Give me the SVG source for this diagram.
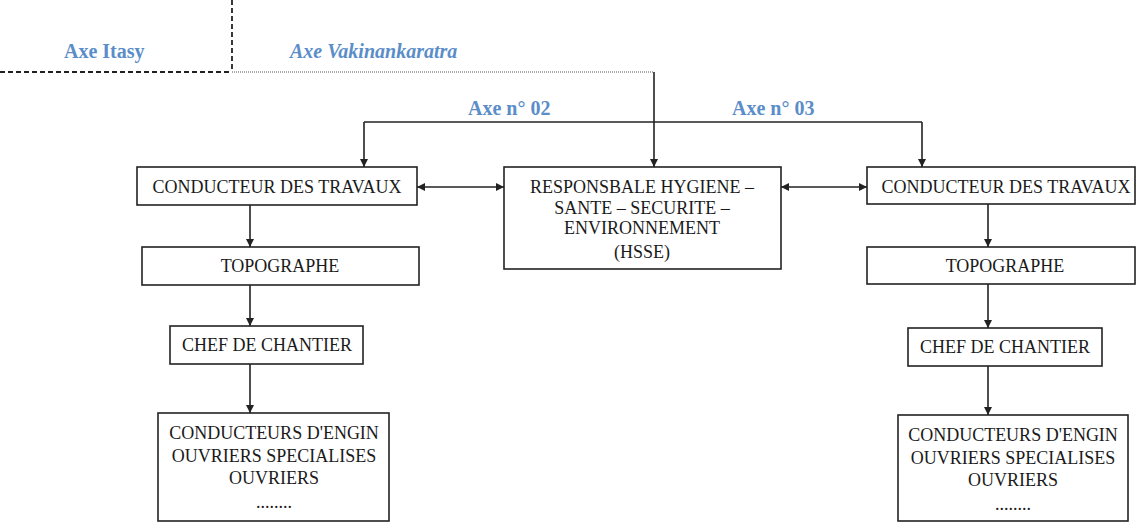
<svg xmlns="http://www.w3.org/2000/svg" width="1137" height="522" viewBox="0 0 1137 522">
<style>
.box{fill:#fff;stroke:#222;stroke-width:1.6}
.t{font-family:"Liberation Serif","Times New Roman",serif;font-size:18px;fill:#1a1a1a;text-anchor:middle}
.lbl{font-family:"Liberation Serif","Times New Roman",serif;font-size:20px;font-weight:bold;fill:#5b8dc8}
.ln{stroke:#222;stroke-width:1.6;fill:none}
</style>
<defs>
<marker id="ah" viewBox="0 0 10 10" refX="10" refY="5" markerWidth="8" markerHeight="8" markerUnits="userSpaceOnUse" orient="auto-start-reverse"><path d="M0,0L10,5L0,10z" fill="#222"/></marker>
</defs>
<g id="labels">
<text class="lbl" x="64" y="58">Axe Itasy</text>
<text class="lbl" x="290" y="58" font-style="italic">Axe Vakinankaratra</text>
<text class="lbl" x="468" y="115">Axe n° 02</text>
<text class="lbl" x="732" y="115">Axe n° 03</text>
</g>
<g id="connectors">
<path d="M232,0V72" stroke="#222" stroke-width="1.8" stroke-dasharray="5,3" fill="none"/>
<path d="M0,72H232" stroke="#222" stroke-width="1.8" stroke-dasharray="5,3" fill="none"/>
<path d="M232,72H654" stroke="#555" stroke-width="1.2" stroke-dasharray="1,1" fill="none"/>
<path class="ln" d="M654,72V167" marker-end="url(#ah)"/>
<path class="ln" d="M364,122H922"/>
<path class="ln" d="M364,122V167" marker-end="url(#ah)"/>
<path class="ln" d="M922,122V167" marker-end="url(#ah)"/>
<path class="ln" d="M417,187H504" marker-start="url(#ah)" marker-end="url(#ah)"/>
<path class="ln" d="M781,187H867" marker-start="url(#ah)" marker-end="url(#ah)"/>
<path class="ln" d="M250,205V247" marker-end="url(#ah)"/>
<path class="ln" d="M250,285V326" marker-end="url(#ah)"/>
<path class="ln" d="M250,364V413" marker-end="url(#ah)"/>
<path class="ln" d="M988,204V247" marker-end="url(#ah)"/>
<path class="ln" d="M988,284V328" marker-end="url(#ah)"/>
<path class="ln" d="M988,366V415" marker-end="url(#ah)"/>
</g>
<g id="cond-left"><rect class="box" x="137" y="167" width="280" height="38"/><text class="t" x="277" y="193">CONDUCTEUR DES TRAVAUX</text></g>
<g id="topo-left"><rect class="box" x="142" y="247" width="277" height="38"/><text class="t" x="280" y="272">TOPOGRAPHE</text></g>
<g id="chef-left"><rect class="box" x="170" y="326" width="193" height="38"/><text class="t" x="267" y="351">CHEF DE CHANTIER</text></g>
<g id="ouv-left"><rect class="box" x="158" y="413" width="231" height="108"/>
<text class="t" x="274" y="439">CONDUCTEURS D'ENGIN</text>
<text class="t" x="274" y="462">OUVRIERS SPECIALISES</text>
<text class="t" x="274" y="484">OUVRIERS</text>
<text class="t" x="274" y="508">........</text></g>
<g id="hsse"><rect class="box" x="504" y="167" width="277" height="102"/>
<text class="t" x="642" y="193">RESPONSBALE HYGIENE –</text>
<text class="t" x="642" y="214">SANTE – SECURITE –</text>
<text class="t" x="642" y="234">ENVIRONNEMENT</text>
<text class="t" x="642" y="258">(HSSE)</text></g>
<g id="cond-right"><rect class="box" x="867" y="167" width="268" height="37"/><text class="t" x="1006" y="193">CONDUCTEUR DES TRAVAUX</text></g>
<g id="topo-right"><rect class="box" x="867" y="247" width="268" height="37"/><text class="t" x="1005" y="272">TOPOGRAPHE</text></g>
<g id="chef-right"><rect class="box" x="908" y="328" width="194" height="38"/><text class="t" x="1005" y="353">CHEF DE CHANTIER</text></g>
<g id="ouv-right"><rect class="box" x="898" y="415" width="230" height="106"/>
<text class="t" x="1013" y="441">CONDUCTEURS D'ENGIN</text>
<text class="t" x="1013" y="464">OUVRIERS SPECIALISES</text>
<text class="t" x="1013" y="486">OUVRIERS</text>
<text class="t" x="1013" y="510">........</text></g>
</svg>
